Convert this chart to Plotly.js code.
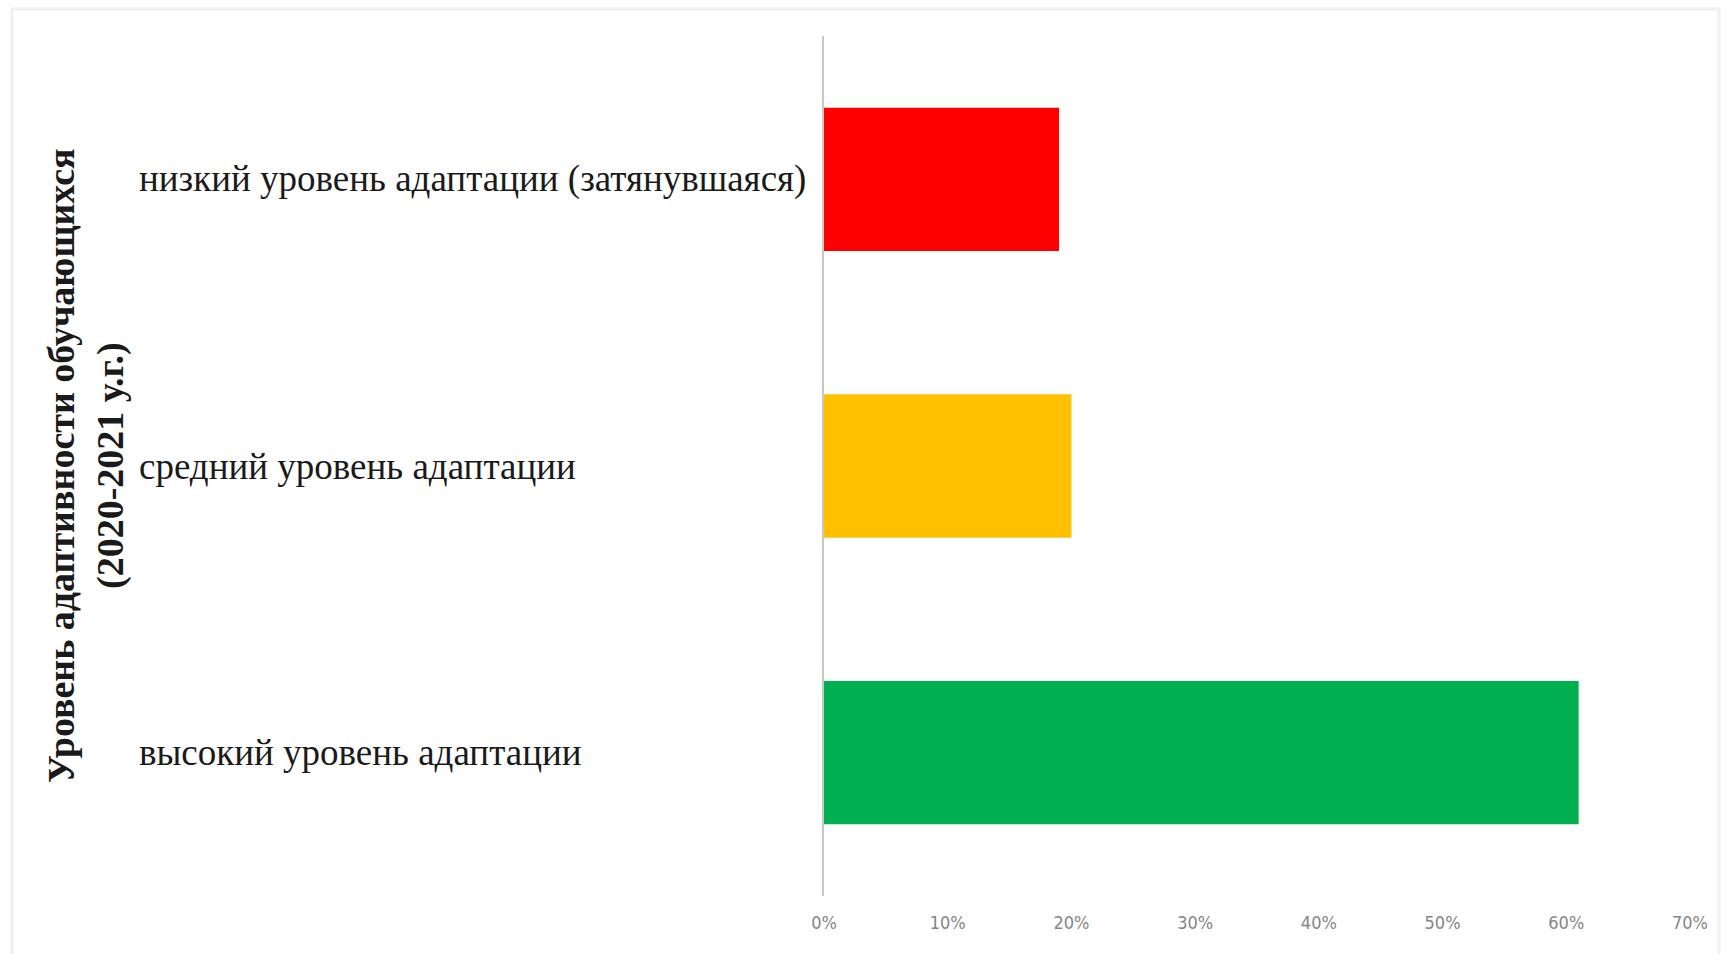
<!DOCTYPE html>
<html>
<head>
<meta charset="utf-8">
<script src="https://cdn.plot.ly/plotly-3.0.1.min.js"></script>
<style>
html,body{margin:0;padding:0;background:#fff;}
#chart{width:1723px;height:954px;}
</style>
</head>
<body>
<div id="chart"></div>
<script>
// Data (bottom to top)
const categories = ['высокий уровень адаптации', 'средний уровень адаптации', 'низкий уровень адаптации (затянувшаяся)'];
const values = [0.61, 0.20, 0.19];
const barColors = ['#00b050', '#ffc000', '#ff0000'];
const tickValues = [0, 0.1, 0.2, 0.3, 0.4, 0.5, 0.6, 0.7];
const tickLabels = ['0%', '10%', '20%', '30%', '40%', '50%', '60%', '70%'];
const yTitle = 'Уровень адаптивности обучающихся<br>(2020-2021 у.г.)';

const W = 1723, H = 954;
const M = {l: 824, r: 33, t: 36, b: 58};
const pw = W - M.l - M.r, ph = H - M.t - M.b;
const px = x => (x - M.l) / pw;
const py = y => (H - M.b - y) / ph;

const serif = '"Liberation Serif", "Times New Roman", serif';

const annotations = categories.map(c => ({
  xref: 'paper', yref: 'y', x: px(137), y: c,
  xanchor: 'left', yanchor: 'middle', showarrow: false,
  text: c, font: {family: serif, size: 37, color: '#1a1a1a'}
}));
annotations.push({
  xref: 'paper', yref: 'paper', x: px(86), y: 0.5,
  xanchor: 'center', yanchor: 'middle', showarrow: false, textangle: -90,
  text: '<b>' + yTitle + '</b>',
  font: {family: serif, size: 38, color: '#1a1a1a'}
});

const trace = {
  type: 'bar', orientation: 'h',
  x: values, y: categories,
  marker: {color: barColors},
  hoverinfo: 'x+y'
};

const layout = {
  width: W, height: H,
  margin: M,
  paper_bgcolor: '#ffffff', plot_bgcolor: '#ffffff',
  showlegend: false,
  bargap: 0.5,
  xaxis: {
    range: [0, 0.7], tickvals: tickValues, ticktext: tickLabels,
    showgrid: false, zeroline: false, showline: false, ticks: '',
    tickfont: {family: '"Liberation Sans Narrow", "DejaVu Sans Condensed", sans-serif', size: 18, color: '#858585'},
    ticklabelstandoff: 14
  },
  yaxis: {
    type: 'category', categoryorder: 'array', categoryarray: categories,
    range: [-0.5, 2.5], showticklabels: false, ticks: '',
    showgrid: false, zeroline: false,
    showline: true, linecolor: '#c8c8c8', linewidth: 2
  },
  annotations: annotations,
  shapes: [{
    type: 'rect', xref: 'paper', yref: 'paper',
    x0: px(12), x1: px(1719), y0: py(960), y1: py(9),
    line: {color: '#f0f0f0', width: 3}, layer: 'below'
  }]
};

Plotly.newPlot('chart', [trace], layout, {displayModeBar: false, staticPlot: true});
</script>
</body>
</html>
